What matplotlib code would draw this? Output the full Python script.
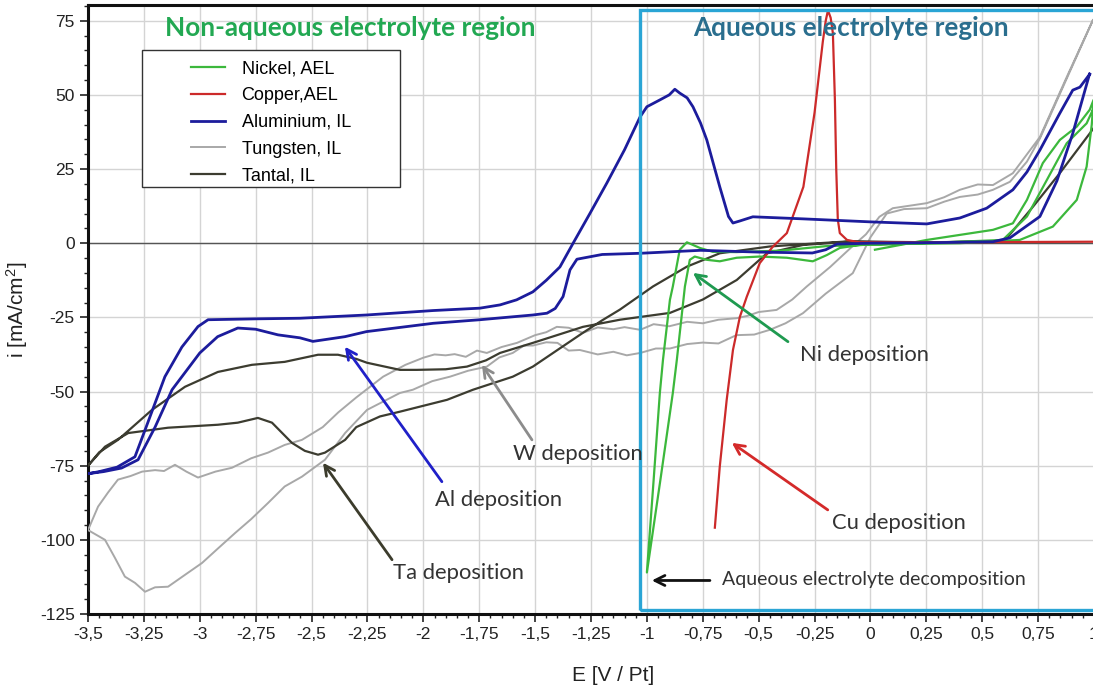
import matplotlib
matplotlib.use("Agg")
import matplotlib.pyplot as plt
from matplotlib.patches import Rectangle
from matplotlib.ticker import MultipleLocator

# --- data (E in V vs Pt, i in mA/cm2) ---
al_E = [0.98, 0.905, 0.834, 0.758, 0.624, 0.548, 0.3, 0.0, -0.15, -0.2, -0.26, -0.5, -0.76, -1.03, -1.2,
        -1.313, -1.344, -1.375, -1.41, -1.447, -1.51, -1.747, -1.956, -2.254, -2.35, -2.494, -2.552, -2.65,
        -2.75, -2.83, -2.92, -3.0, -3.124, -3.2, -3.276, -3.35, -3.43, -3.5,
        -3.45, -3.37, -3.29, -3.24, -3.156, -3.08, -3.008, -2.963, -2.75, -2.552, -2.254, -1.956, -1.747,
        -1.657, -1.583, -1.51, -1.45, -1.389, -1.33, -1.255, -1.179, -1.1, -1.031, -1.0, -0.942, -0.9,
        -0.875, -0.853, -0.82, -0.794, -0.76, -0.732, -0.674, -0.635, -0.615, -0.584, -0.526, -0.3, -0.003,
        0.252, 0.4, 0.52, 0.637, 0.7, 0.758, 0.847, 0.905, 0.937, 0.981]
al_i = [57, 37, 21, 9, 1.8, 0.5, 0.2, 0.0, -0.3, -2.2, -3.3, -3.0, -2.4, -3.4, -3.8,
        -5.4, -9, -18, -22, -23.6, -24.2, -25.8, -27, -29.8, -31.5, -33.1, -31.9, -30.9,
        -29, -28.6, -31.5, -37, -49.4, -62, -73, -75.8, -77, -77.7,
        -77, -75.5, -72, -62, -45, -35, -28.1, -25.8, -25.5, -25.3, -24.2, -22.7, -21.9,
        -20.8, -19.1, -16.4, -12.5, -8, 0, 10, 20.3, 31.5, 42.5, 46, 48.3, 50,
        51.9, 50.6, 49, 46, 40.5, 34.8, 19, 9, 6.8, 7.5, 8.9, 8.2, 7.2,
        6.5, 8.5, 11.8, 18, 24, 31.4, 43.8, 51.6, 52.6, 57]

ta_E = [1.0, 0.981, 0.847, 0.727, 0.6, 0.3, 0.0, -0.1, -0.23, -0.45, -0.674, -0.821, -0.973, -1.121,
        -1.2, -1.286, -1.4, -1.51, -1.6, -1.778, -1.894, -2.105, -2.194, -2.3, -2.35, -2.44, -2.471,
        -2.53, -2.588, -2.677, -2.74, -2.83, -2.919, -3.142, -3.32, -3.424, -3.5,
        -3.45, -3.366, -3.214, -3.066, -2.919, -2.767, -2.62, -2.471, -2.382, -2.3, -2.252, -2.105,
        -2.029, -1.9, -1.805, -1.72, -1.657, -1.51, -1.286, -1.121, -0.897, -0.75, -0.598, -0.463,
        -0.302, -0.1, 0.2, 0.55]
ta_i = [39, 37, 23.6, 12.3, 0.8, 0.3, 0.5, 0.6, 0.0, -1.1, -3.4, -7.9, -14.6, -22.4,
        -26, -30.2, -36, -41.6, -45, -49.4, -52.8, -56.8, -58.4, -62, -66.3, -70.6, -71.3,
        -70, -67.3, -60.5, -58.9, -60.5, -61.2, -62.2, -64, -68.6, -75,
        -70.5, -66.3, -56.2, -48.4, -43.4, -41, -40, -37.6, -37.6, -39, -40.3, -42.7,
        -42.7, -42.5, -41.6, -39.5, -37, -33.6, -28.2, -25.8, -23.5, -19, -12.4, -3.4,
        -0.6, 0.5, 0.3, 0.5]

w_E = [0.995, 0.878, 0.758, 0.637, 0.548, 0.48, 0.4, 0.33, 0.252, 0.1, 0.04, -0.02, -0.08, -0.18,
       -0.285, -0.35, -0.42, -0.5, -0.55, -0.6, -0.68, -0.75, -0.82, -0.9, -0.97, -1.03, -1.1, -1.15,
       -1.22, -1.286, -1.35, -1.403, -1.45, -1.5, -1.581, -1.65, -1.716, -1.76, -1.81, -1.86, -1.9,
       -1.95, -2.0, -2.08, -2.18, -2.3, -2.38, -2.45, -2.543, -2.62, -2.695, -2.77, -2.856, -2.93,
       -3.008, -3.06, -3.111, -3.16, -3.2, -3.258, -3.31, -3.366, -3.41, -3.455, -3.5,
       -3.424, -3.38, -3.335, -3.29, -3.245, -3.2, -3.142, -3.07, -2.99, -2.92, -2.842, -2.77, -2.695,
       -2.62, -2.543, -2.44, -2.35, -2.252, -2.105, -2.047, -1.96, -1.881, -1.8, -1.716, -1.66, -1.6,
       -1.55, -1.51, -1.45, -1.4, -1.35, -1.3, -1.22, -1.15, -1.09, -1.03, -0.96, -0.897, -0.82, -0.75,
       -0.68, -0.6, -0.52, -0.45, -0.38, -0.302, -0.2, -0.079, 0.0, 0.073, 0.15, 0.252, 0.33, 0.4,
       0.48, 0.548, 0.624, 0.7, 0.758, 0.878, 0.995]
w_i = [75.2, 56, 35.8, 23.6, 19.6, 19.8, 18, 15.5, 13.5, 11.8, 8.9, 3, -1, -8,
       -14.6, -19, -22.5, -23.2, -24.5, -25.3, -25.8, -27, -26.5, -28, -27.3, -29.2, -28.3, -29,
       -28.4, -30.2, -28.5, -28.2, -30, -31, -33.6, -35, -37, -36.2, -38.3, -37.4, -37.8,
       -37.5, -38.6, -41, -45, -52, -57, -62, -66.3, -68, -70.6, -72.5, -75.7, -77,
       -79, -77, -74.7, -76.8, -76.5, -77, -78.5, -79.7, -84, -88.8, -96.7,
       -100, -106, -112.4, -114.5, -117.5, -116, -115.8, -112, -107.8, -103, -97.7, -93, -87.6,
       -82, -78.7, -73, -64, -56.2, -50.5, -49.4, -46.5, -45, -43, -41.6, -38.5, -37,
       -34.5, -34.5, -33.4, -33.6, -36.2, -36, -37.5, -36.6, -37.8, -37, -35.5, -35.5, -34, -33.5,
       -33.8, -31, -30.8, -29.2, -27, -23.6, -17, -10.1, 2, 10, 11.5, 11.8, 14, 15.6,
       16.4, 18, 20.7, 27.5, 35.3, 55.5, 75.2]

ni_E = [0.02, 0.252, 0.548, 0.637, 0.7, 0.771, 0.847, 0.923, 0.981, 0.998, 0.99, 0.967, 0.923, 0.816,
        0.668, 0.4, 0.1, -0.047, -0.137, -0.195, -0.258, -0.374, -0.495, -0.598, -0.674, -0.732, -0.786,
        -0.808, -0.83, -0.866, -0.884, -0.94, -1.0,
        -0.97, -0.942, -0.928, -0.897, -0.884, -0.853, -0.821, -0.763, -0.705, -0.6, -0.4, -0.2, 0.0,
        0.3, 0.592, 0.7, 0.789, 0.878, 0.967, 0.995]
ni_i = [-2.2, 1.1, 4.5, 6.7, 14.6, 27, 34.8, 39.3, 45, 48.3, 40, 25.8, 14.6, 5.6,
        1.1, 0.0, -0.3, -0.6, -1.6, -4, -6.1, -4.9, -4.5, -4.9, -6.1, -5.6, -4.5,
        -5.6, -14.6, -39.3, -50.5, -80, -111,
        -80, -50.5, -39.3, -19.1, -14.6, -2.2, 0.3, -1.6, -2.9, -3.0, -2.5, -1.0, -0.5,
        0.2, 1.1, 9, 21.3, 33.7, 40.4, 45]

cu_E = [-0.696, -0.674, -0.643, -0.615, -0.584, -0.553, -0.495, -0.437, -0.374, -0.3, -0.25, -0.213,
        -0.2, -0.19, -0.178, -0.168, -0.159, -0.153, -0.146, -0.137, -0.105, -0.05, 0.3, 1.0]
cu_i = [-95.9, -75.3, -52.8, -36, -24.8, -18, -6.7, -1.2, 3.4, 19, 44, 68,
        75, 78.5, 76, 70.8, 48.3, 25, 8, 3.4, 1.1, 0.3, 0.3, 0.5]

series_names = ["Nickel, AEL", "Copper,AEL", "Aluminium, IL", "Tungsten, IL", "Tantal, IL"]
series_colors = ["#3cb83c", "#cc2a2a", "#1c1c9c", "#a8a8a8", "#3c3c30"]

x_ticks = [-3.5, -3.25, -3.0, -2.75, -2.5, -2.25, -2.0, -1.75, -1.5, -1.25, -1.0,
           -0.75, -0.5, -0.25, 0.0, 0.25, 0.5, 0.75, 1.0]
x_labels = ["-3,5", "-3,25", "-3", "-2,75", "-2,5", "-2,25", "-2", "-1,75", "-1,5", "-1,25", "-1",
            "-0,75", "-0,5", "-0,25", "0", "0,25", "0,5", "0,75", "1"]
y_ticks = [75, 50, 25, 0, -25, -50, -75, -100, -125]

# annotations: text, text pos, arrow tail, arrow head, arrow colour
notes = [
    ("Ni deposition", (-0.316, -37.6), (-0.369, -33.2), (-0.794, -10.0), "#1f9a50"),
    ("Cu deposition", (-0.173, -94.2), (-0.191, -89.9), (-0.62, -67.3), "#d42a2a"),
    ("W deposition", (-1.599, -71.0), (-1.514, -66.3), (-1.738, -41.0), "#8c8c8c"),
    ("Al deposition", (-1.948, -86.5), (-1.917, -80.4), (-2.351, -34.9), "#2020c8"),
    ("Ta deposition", (-2.136, -111.1), (-2.14, -106.7), (-2.449, -74.0), "#3c3c2c"),
]

plt.rcParams["font.family"] = ["Liberation Sans", "DejaVu Sans"]
plt.rcParams["mathtext.default"] = "regular"
plt.rcParams["axes.unicode_minus"] = False

fig = plt.figure(figsize=(10.93, 6.87), dpi=100)
ax = fig.add_axes([88 / 1093, 1 - 614 / 687, 1006 / 1093, 609 / 687])

ax.set_xlim(-3.5, 1.0)
ax.set_ylim(-125, 80.3)
ax.set_xticks(x_ticks)
ax.set_xticklabels(x_labels)
ax.set_yticks(y_ticks)
ax.xaxis.set_minor_locator(MultipleLocator(0.05))
ax.yaxis.set_minor_locator(MultipleLocator(5))
ax.tick_params(which="major", direction="out", length=6, width=1.2, labelsize=12.5, colors="#222222")
ax.tick_params(which="minor", direction="out", length=3, width=1.0, colors="#222222")
ax.grid(which="major", color="#d4d4d4", linewidth=1.0)
ax.set_axisbelow(True)
for side in ["left", "bottom", "top"]:
    ax.spines[side].set_linewidth(2.2)
    ax.spines[side].set_color("#111111")
ax.spines["right"].set_visible(False)

ax.axhline(0, color="#555555", linewidth=1.0, zorder=1)

ax.set_xlabel("E [V / Pt]", fontsize=15, color="#222222")
ax.set_ylabel("i [mA/cm$^2$]", fontsize=15, color="#222222")
ax.xaxis.set_label_coords(0.522, -0.085)
ax.yaxis.set_label_coords(-0.058, 0.5)

# aqueous region frame
ax.add_patch(Rectangle((-1.031, -123.8), 2.2, 202.4, fill=False, edgecolor="#2aa5d5",
                       linewidth=2.4, zorder=4))

curves = [(ni_E, ni_i), (cu_E, cu_i), (al_E, al_i), (w_E, w_i), (ta_E, ta_i)]
widths = [1.6, 1.6, 2.0, 1.4, 1.6]
handles = []
for (E, cur), name, col, lw in zip(curves, series_names, series_colors, widths):
    h, = ax.plot(E, cur, color=col, linewidth=lw, label=name, solid_joinstyle="round", zorder=3)
    handles.append(h)

# draw tungsten/tantal under the others, like the reference
handles[3].set_zorder(2.6)
handles[4].set_zorder(2.8)

ax.text(-2.328, 72.5, "Non-aqueous electrolyte region", color="#22a852", fontsize=18.8,
        fontweight="bold", family="Lato", ha="center", va="center")
ax.text(-0.088, 72.5, "Aqueous electrolyte region", color="#2a6e8e", fontsize=18.8,
        fontweight="bold", family="Lato", ha="center", va="center")

for label, tpos, tail, head, col in notes:
    ax.annotate("", xy=head, xytext=tail,
                arrowprops=dict(arrowstyle="->", color=col, lw=2.0, mutation_scale=18,
                                shrinkA=0, shrinkB=0), zorder=5)
    ax.text(tpos[0], tpos[1], label, fontsize=15.8, family="Lato", color="#333333",
            ha="left", va="center", zorder=5)

ax.annotate("", xy=(-0.978, -113.7), xytext=(-0.718, -113.7),
            arrowprops=dict(arrowstyle="->", color="#111111", lw=2.0, mutation_scale=18,
                            shrinkA=0, shrinkB=0), zorder=5)
ax.text(-0.665, -113.4, "Aqueous electrolyte decomposition", fontsize=14, family="Lato",
        color="#333333", ha="left", va="center", zorder=5)

# legend with a wide square frame
ax.add_patch(Rectangle((54 / 1006, 1 - 182 / 609), 258 / 1006, 137 / 609, transform=ax.transAxes,
                       facecolor="white", edgecolor="#333333", linewidth=1.0, zorder=6))
leg = ax.legend(handles=handles, loc="upper left", bbox_to_anchor=(103 / 1006, 1 - 55 / 609),
                frameon=False, fontsize=13, handlelength=1.9, handletextpad=0.9,
                labelspacing=0.55, borderpad=0, borderaxespad=0)
leg.set_zorder(7)

fig.savefig("out.png", dpi=100)
